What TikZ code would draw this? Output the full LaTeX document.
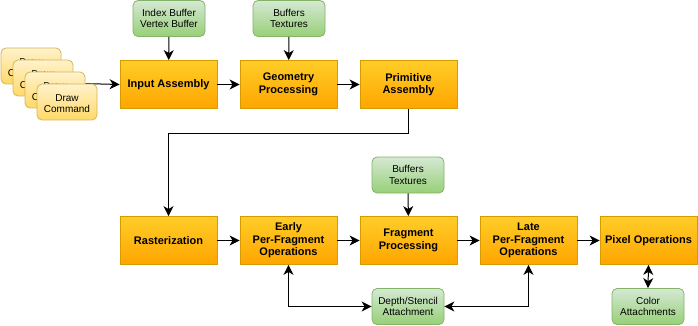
\documentclass[tikz,border=0pt]{standalone}
\usepackage{fontspec}
\setmainfont{Liberation Sans}
\usetikzlibrary{arrows.meta,positioning,calc}
\pgfdeclarelayer{background}
\pgfsetlayers{background,main}
\definecolor{orTop}{HTML}{FFCD28}
\definecolor{orBot}{HTML}{FFA500}
\definecolor{orLine}{HTML}{D79B00}
\definecolor{grTop}{HTML}{D5E8D4}
\definecolor{grBot}{HTML}{97D077}
\definecolor{grLine}{HTML}{82B366}
\definecolor{yeTop}{HTML}{FFF2CC}
\definecolor{yeBot}{HTML}{FFD966}
\definecolor{yeLine}{HTML}{D6B656}
\tikzset{
  x=1pt,y=1pt,
  stage/.style={draw=orLine, line width=0.8pt, top color=orTop, bottom color=orBot,
    minimum width=97pt, minimum height=48pt, inner sep=1pt, align=center,
    font=\fontsize{11}{12.5}\selectfont\bfseries},
  res/.style={draw=grLine, line width=0.8pt, top color=grTop, bottom color=grBot,
    rounded corners=5pt, minimum width=72pt, minimum height=36pt, inner sep=1pt, align=center,
    font=\fontsize{10}{11.5}\selectfont},
  cmd/.style={draw=yeLine, line width=0.8pt, top color=yeTop, bottom color=yeBot,
    rounded corners=5pt, minimum width=60pt, minimum height=36pt, inner sep=0pt},
  cmdtext/.style={inner sep=0pt, align=center, yshift=-2pt,
    font=\fontsize{10}{11}\selectfont},
  arr/.style={draw=black, line width=1pt, -{Stealth[length=10pt,width=10pt,inset=3pt]}},
  darr/.style={draw=black, line width=1pt, {Stealth[length=10pt,width=10pt,inset=3pt]}-{Stealth[length=10pt,width=10pt,inset=3pt]}},
}
\begin{document}
\begin{tikzpicture}
\useasboundingbox (0,0) rectangle (698,-326);
% draw command stack
\node[cmd] (d1) at (31,-66) {};
\node[cmdtext] (d1t) at (d1.center) {Draw\\Command};
\node[cmd] (d2) at (43,-78) {};
\node[cmdtext] (d2t) at (d2.center) {Draw\\Command};
\node[cmd] (d3) at (55,-90) {};
\node[cmdtext] (d3t) at (d3.center) {Draw\\Command};
\node[cmd] (d4) at (67,-102) {};
\node[cmdtext] (d4t) at (d4.center) {Draw\\Command};
% top row
\node[stage] (ia) at (168.5,-84.5) {Input Assembly};
\node[stage] (gp) at (288.5,-84.5) {Geometry\\Processing};
\node[stage] (pa) at (408.5,-84.5) {Primitive\\Assembly};
\node[res] (ib) at (169,-18.5) {Index Buffer\\Vertex Buffer};
\node[res] (bt1) at (289,-18.5) {Buffers\\Textures};
% bottom row
\node[stage] (ra) at (168.5,-240.5) {Rasterization};
\node[stage] (ep) at (288.5,-240.5) {Early\\Per-Fragment\\Operations};
\node[stage] (fp) at (408.5,-240.5) {Fragment\\Processing};
\node[stage] (lp) at (528.5,-240.5) {Late\\Per-Fragment\\Operations};
\node[stage] (po) at (648.5,-240.5) {Pixel Operations};
\node[res] (bt2) at (408,-175) {Buffers\\Textures};
\node[res] (ds) at (408,-306.5) {Depth/Stencil\\Attachment};
\node[res] (ca) at (648,-306.5) {Color\\Attachments};
% connectors
\begin{pgfonlayer}{background}
\draw[arr] ([xshift=-12pt]d4.north east) -- (ia.west);
\end{pgfonlayer}
\draw[arr] (ib) -- (ia);
\draw[arr] (bt1) -- (gp);
\draw[arr] (ia) -- (gp);
\draw[arr] (gp) -- (pa);
\coordinate (turn) at (0,-133);
\draw[arr] (pa.south) -- (pa.south |- turn) -- (ra.north |- turn) -- (ra.north);
\draw[arr] (ra) -- (ep);
\draw[arr] (ep) -- (fp);
\draw[arr] (fp) -- (lp);
\draw[arr] (lp) -- (po);
\draw[arr] (bt2) -- (fp);
\draw[darr] (ep.south) |- (ds.west);
\draw[darr] (lp.south) |- (ds.east);
\draw[darr] (po.south) -- (ca.north);
\end{tikzpicture}
\end{document}
